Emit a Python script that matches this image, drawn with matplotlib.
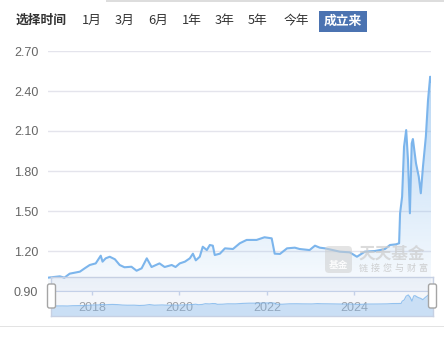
import numpy as np
import pandas as pd
import matplotlib
matplotlib.use("Agg")
from matplotlib import pyplot as plt
import matplotlib.dates as mdates
from matplotlib.patches import FancyBboxPatch, Rectangle
from matplotlib.colors import LinearSegmentedColormap
from matplotlib.transforms import IdentityTransform

# unit net value since inception
dates = [
    "2017-01-01", "2017-04-10", "2017-05-18", "2017-07-01", "2017-09-24",
    "2017-11-03", "2017-12-15", "2018-02-03", "2018-03-17", "2018-04-01",
    "2018-04-27", "2018-05-31", "2018-07-13", "2018-08-22", "2018-10-01",
    "2018-11-28", "2019-01-10", "2019-02-21", "2019-04-05", "2019-05-15",
    "2019-07-20", "2019-09-01", "2019-10-30", "2019-12-01", "2020-01-05",
    "2020-02-17", "2020-03-29", "2020-04-24", "2020-05-18", "2020-06-20",
    "2020-07-15", "2020-08-18", "2020-09-12", "2020-10-07", "2020-10-23",
    "2020-12-05", "2021-01-16", "2021-03-24", "2021-05-20", "2021-07-16",
    "2021-10-07", "2021-12-12", "2022-02-10", "2022-03-07", "2022-04-20",
    "2022-06-18", "2022-08-22", "2022-10-01", "2022-12-23", "2023-02-06",
    "2023-03-18", "2023-04-30", "2023-07-05", "2023-09-01", "2023-11-23",
    "2024-01-22", "2024-03-28", "2024-06-20", "2024-07-31", "2024-09-12",
    "2024-10-24", "2024-12-13", "2025-01-08", "2025-01-16", "2025-02-02",
    "2025-02-18", "2025-03-08", "2025-03-23", "2025-04-08", "2025-04-23",
    "2025-05-03", "2025-05-29", "2025-06-21", "2025-07-08", "2025-07-26",
    "2025-08-19", "2025-09-06", "2025-09-24", "2025-10-01",
]
nav = [
    1.00, 1.01, 1.00, 1.03, 1.045,
    1.07, 1.095, 1.107, 1.165, 1.12,
    1.145, 1.157, 1.138, 1.095, 1.078,
    1.082, 1.052, 1.07, 1.145, 1.08,
    1.107, 1.08, 1.095, 1.08, 1.107,
    1.12, 1.145, 1.18, 1.13, 1.157,
    1.232, 1.207, 1.245, 1.24, 1.17,
    1.18, 1.22, 1.215, 1.258, 1.283,
    1.283, 1.303, 1.295, 1.18, 1.178,
    1.22, 1.225, 1.215, 1.207, 1.24,
    1.225, 1.22, 1.207, 1.195, 1.19,
    1.157, 1.195, 1.20, 1.207, 1.215,
    1.245, 1.25, 1.258, 1.483, 1.607,
    1.982, 2.107, 1.885, 1.483, 2.007,
    2.04, 1.857, 1.757, 1.633, 1.832,
    2.057, 2.33, 2.507, 2.47,
]
y_ticks = [0.90, 1.20, 1.50, 1.80, 2.10, 2.40, 2.70]
year_labels = ["2018", "2020", "2022", "2024"]
periods = ["1月", "3月", "6月", "1年", "3年", "5年", "今年"]
selected = "成立来"

W, H = 444, 338
CJK = ["Noto Sans CJK SC", "DejaVu Sans"]
LINE = "#7cb5ec"


def box(l, t, r, b):
    # pixel box (top-left origin) -> figure fraction rect
    return [l / W, 1 - b / H, (r - l) / W, (b - t) / H]


fig = plt.figure(figsize=(W / 100, H / 100), dpi=100)
fig.patch.set_facecolor("white")

x = pd.to_datetime(dates)
x0, x1 = mdates.date2num(x[0]), mdates.date2num(x[-1])

# main chart
ax = fig.add_axes(box(48, 51, 431, 291))
ax.set_facecolor("none")
poly = ax.fill_between(x, nav, 0.9, color="none", lw=0)
cmap = LinearSegmentedColormap.from_list(
    "grad", [(124 / 255, 181 / 255, 236 / 255, 0.05), (124 / 255, 181 / 255, 236 / 255, 0.6)]
)
im = ax.imshow(np.linspace(0, 1, 256).reshape(-1, 1), cmap=cmap, origin="lower",
               aspect="auto", extent=[x0, x1, 0.9, 2.7], zorder=2)
im.set_clip_path(poly.get_paths()[0], ax.transData)
ax.plot(x, nav, color=LINE, lw=1.5, zorder=3, solid_joinstyle="round")
ax.set_xlim(x0, x1)
ax.set_ylim(0.9, 2.7)

ax.set_yticks(y_ticks)
ax.set_yticklabels([f"{v:.2f}" for v in y_ticks], family="Liberation Sans")
ax.tick_params(axis="y", length=0, pad=7, labelcolor="#666666", labelsize=9)
ax.grid(axis="y", color="#e4e4ec", lw=1)
ax.set_axisbelow(True)
ax.set_xticks(pd.to_datetime([f"{y}-01-01" for y in year_labels]))
ax.set_xticklabels(year_labels, family="Liberation Sans")
ax.tick_params(axis="x", length=3, width=1, color="#ccd6eb", labelcolor="#a3a3a3",
               labelsize=9, pad=5)
for s in ["top", "right", "left"]:
    ax.spines[s].set_visible(False)
ax.spines["bottom"].set_color("#ccd6eb")

# navigator (range slider)
nv = fig.add_axes(box(51, 277, 433, 316))
nv.set_facecolor((102 / 255, 133 / 255, 194 / 255, 0.07))
nv.fill_between(x, nav, 0, color=LINE, alpha=0.35, lw=0)
nv.plot(x, nav, color=LINE, lw=0.8, alpha=0.8)
nv.set_xlim(x0, x1)
nv.set_ylim(0, 3.9)
nv.set_xticks([])
nv.set_yticks([])
for s in nv.spines.values():
    s.set_color("#c6d0e3")
    s.set_linewidth(1)

for cx in (51.5, 432.5):
    fig.add_artist(FancyBboxPatch((cx - 4, H - 308), 8, 24,
                                  boxstyle="round,pad=0,rounding_size=2",
                                  fc="white", ec="#a5a5a5", lw=1,
                                  transform=IdentityTransform(), zorder=5))

# watermark
fig.add_artist(FancyBboxPatch((325, H - 273), 27, 27, boxstyle="round,pad=0,rounding_size=4",
                              fc="#cfcfcf", ec="none", alpha=0.55,
                              transform=IdentityTransform(), zorder=4))
fig.text(338.5 / W, 1 - 265 / H, "基金", family=CJK, fontsize=7, weight="bold",
         color="white", ha="center", va="center", alpha=0.9, zorder=5)
fig.text(358 / W, 1 - 254 / H, "天天基金", family=CJK, fontsize=12, weight="bold",
         color="#cccccc", ha="left", va="center", alpha=0.7, zorder=5)
for i, ch in enumerate("链接您与财富"):
    fig.text((363 + i * 12) / W, 1 - 268 / H, ch, family=CJK, fontsize=6.5,
             color="#c4c4c4", ha="center", va="center", alpha=0.8, zorder=5)

# header: period selector
fig.add_artist(Rectangle((106, H - 2), W - 106, 2, fc="#dddddd", ec="none",
                         transform=IdentityTransform()))
fig.text(16 / W, 1 - 20.5 / H, "选择时间", family=CJK, fontsize=9.2, weight="bold",
         color="#333333", ha="left", va="center")
tab_x = [92, 125, 158, 192, 225, 258, 296]
for cx, lab in zip(tab_x, periods):
    fig.text(cx / W, 1 - 20.5 / H, lab, family=CJK, fontsize=9.2,
             color="#333333", ha="center", va="center")
fig.add_artist(Rectangle((319, H - 32), 48, 21, fc="#4b73b1", ec="none",
                         transform=IdentityTransform()))
fig.text(343 / W, 1 - 21 / H, selected, family=CJK, fontsize=9.2, weight="bold",
         color="white", ha="center", va="center")

# bottom separator
fig.add_artist(Rectangle((0, H - 327), W, 1, fc="#e3e3e3", ec="none",
                         transform=IdentityTransform()))

fig.savefig("out.png", dpi=100)
